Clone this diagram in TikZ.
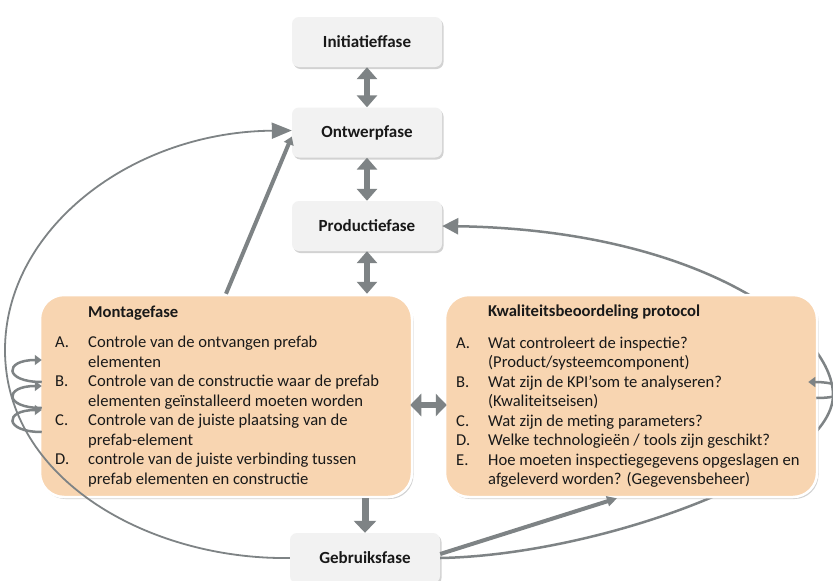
\documentclass[tikz,border=0pt]{standalone}
\usepackage{fontspec}
\setmainfont{Carlito}
\usepackage{tikz}
\usetikzlibrary{arrows.meta,shadows}
\definecolor{phasegray}{HTML}{F2F2F2}
\definecolor{stagefill}{HTML}{F8D5B1}
\definecolor{arrowgray}{HTML}{7E8385}

\begin{document}
\begin{tikzpicture}[
    x=1pt, y=-1pt,                          % work in pixels of the layout
    every node/.style={font=\fontsize{16.6}{19.5}\selectfont, text=black!90},
    phase/.style={                          % small grey phase boxes
        rectangle,
        rounded corners=7pt,
        minimum width=150pt,
        minimum height=50pt,
        fill=phasegray,
        font=\fontsize{17}{20}\selectfont\bfseries,
        drop shadow={shadow xshift=1.5pt, shadow yshift=-2pt, opacity=0.35}
    },
    stage/.style={                          % large peach boxes
        rectangle,
        rounded corners=24pt,
        minimum width=372pt,
        minimum height=202pt,
        fill=stagefill,
        draw=white,
        line width=2.5pt,
        drop shadow={shadow xshift=1.5pt, shadow yshift=-2pt, opacity=0.35}
    },
    list/.style={anchor=base west, inner sep=0pt, align=left},
    dbl/.style={arrowgray, line width=6pt,
        {Triangle[width=20pt,length=12pt]}-{Triangle[width=20pt,length=12pt]}},
    down/.style={arrowgray, line width=7pt, -{Triangle[width=22pt,length=12pt]}},
    thin/.style={arrowgray, line width=1.8pt, -{Triangle[width=16pt,length=20pt]}},
    selfloop/.style={arrowgray, line width=2.5pt, -{Triangle[width=10pt,length=7pt]}}
]

% page
\path[use as bounding box, fill=white] (0,0) rectangle (833,581);

% Phases
\node[phase] (init) at (367,42) {Initiatieffase};
\node[phase] (ontwerp) at (367,132.5) {Ontwerpfase};
\node[phase] (prod) at (367,226) {Productiefase};
\node[phase] (gebruik) at (365,558) {Gebruiksfase};

% back loop behind the protocol box
\draw[arrowgray, line width=2.5pt, -{Triangle[width=16pt,length=16pt]}]
    (gebruik.east) .. controls (600,555) and (833,470) .. (833,395)
    .. controls (833,330) and (700,230) .. (prod.east);

% Stages
\node[stage] (montage) at (226,396) {};
\node[stage] (kwal) at (631,396) {};

\node[list] (montext) at (55,317) {%
\begin{tabular}[t]{@{}p{33pt}@{}l@{}}
 & \textbf{Montagefase}\\[11.4pt]
A. & Controle van de ontvangen prefab\\
   & elementen\\
B. & Controle van de constructie waar de prefab\\
   & elementen geïnstalleerd moeten worden\\
C. & Controle van de juiste plaatsing van de\\
   & prefab-element\\
D. & controle van de juiste verbinding tussen\\
   & prefab elementen en constructie
\end{tabular}};

\node[list] (kwaltext) at (456,316) {%
\begin{tabular}[t]{@{}p{32pt}@{}l@{}}
 & \textbf{Kwaliteitsbeoordeling protocol}\\[12.5pt]
A. & Wat controleert de inspectie?\\
   & (Product/systeemcomponent)\\
B. & Wat zijn de KPI’som te analyseren?\\
   & (Kwaliteitseisen)\\
C. & Wat zijn de meting parameters?\\
D. & Welke technologieën / tools zijn geschikt?\\
E. & Hoe moeten inspectiegegevens opgeslagen en\\
   & afgeleverd worden? (Gegevensbeheer)
\end{tabular}};

% Links between phases
\draw[dbl] (init) -- (ontwerp);
\draw[dbl] (ontwerp) -- (prod);
\draw[dbl] (prod.south) -- (prod.south |- montage.north);
\draw[dbl, {Triangle[width=22pt,length=11pt]}-{Triangle[width=22pt,length=11pt]}]
    ([xshift=-3pt,yshift=-9pt]montage.east) -- ([xshift=3pt,yshift=-9pt]kwal.west);
\draw[down] (gebruik.north |- montage.south) -- (gebruik.north);
\draw[arrowgray, line width=4pt, -{Triangle[width=10pt,length=8pt]}]
    (montage.north) -- ([yshift=-4pt]ontwerp.west);
\draw[arrowgray, line width=4pt, -{Triangle[width=10pt,length=10pt]}]
    ([yshift=4pt]gebruik.east) -- ([xshift=-14pt]kwal.south);

% long way back from use to design
\draw[thin] (gebruik.west) .. controls (150,560) and (5,480) .. (5,350)
    .. controls (5,230) and (130,132) .. ([yshift=2pt]ontwerp.west);

% repeated checks
\foreach \dy in {-36,-10,14}
    \draw[selfloop] ([shift={(3,\dy+22)}]montage.west) .. controls +(-38,0) and +(-38,0) .. ([shift={(3,\dy)}]montage.west);
\draw[selfloop] ([shift={(-2,2)}]kwal.east) .. controls +(40,0) and +(40,0) .. ([shift={(-10,-14)}]kwal.east);

\end{tikzpicture}
\end{document}
